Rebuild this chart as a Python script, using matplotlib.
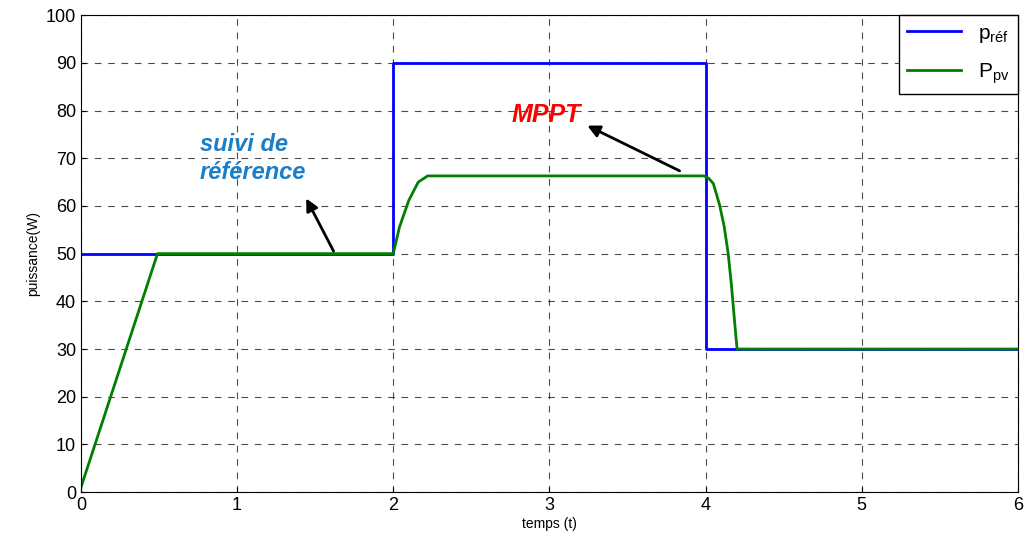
import matplotlib.pyplot as plt

plt.rcParams['font.family'] = ['Liberation Sans', 'DejaVu Sans']

# consigne de puissance (p_ref)
t_ref = [0, 2, 2, 4, 4, 6]
p_ref = [50, 50, 90, 90, 30, 30]

# puissance du panneau (P_pv)
t_pv = [0, 0.49, 2.0, 2.04, 2.1, 2.16, 2.22, 3.99, 4.02, 4.05, 4.09, 4.12, 4.145, 4.167, 4.187, 4.202, 6]
p_pv = [1, 50, 50, 55.6, 61.2, 65.0, 66.3, 66.3, 65.8, 64.7, 60.2, 55.6, 50.0, 43.0, 35.4, 30.0, 30]

fig = plt.figure(figsize=(10.25, 5.42), dpi=100)
ax = fig.add_axes([0.079, 0.092, 0.914, 0.88])

ax.plot(t_ref, p_ref, color='#0000ff', lw=2, label=r'p$_{\mathregular{réf}}$')
ax.plot(t_pv, p_pv, color='#007f00', lw=2, label=r'P$_{\mathregular{pv}}$')

ax.set_xlim(0, 6)
ax.set_ylim(0, 100)
ax.set_xticks(range(0, 7))
ax.set_yticks(range(0, 101, 10))
ax.tick_params(labelsize=13, direction='in')
ax.grid(True, color='black', linestyle=(0, (6, 6)), lw=0.8, alpha=0.7)
ax.set_xlabel('temps (t)', fontsize=10, labelpad=2)
ax.set_ylabel('puissance(W)', fontsize=10)

ax.text(0.76, 70, 'suivi de\nréférence', color='#1a7fc8', fontsize=17,
        fontweight='bold', style='italic', ha='left', va='center', linespacing=1.25)
ax.annotate('', xy=(1.434, 62.1), xytext=(1.626, 50),
            arrowprops=dict(arrowstyle='-|>', color='black', lw=2, mutation_scale=18))

ax.text(2.98, 79, 'MPPT', color='#ff0000', fontsize=18,
        fontweight='bold', style='italic', ha='center', va='center')
ax.annotate('', xy=(3.227, 77.1), xytext=(3.85, 67.1),
            arrowprops=dict(arrowstyle='-|>', color='black', lw=2, mutation_scale=18))

leg = ax.legend(loc='upper right', fontsize=15, borderaxespad=0, fancybox=False,
                handlelength=2.6, labelspacing=0.8, framealpha=1, edgecolor='black')
leg.get_frame().set_linewidth(1)

fig.savefig('out.png', dpi=100)
